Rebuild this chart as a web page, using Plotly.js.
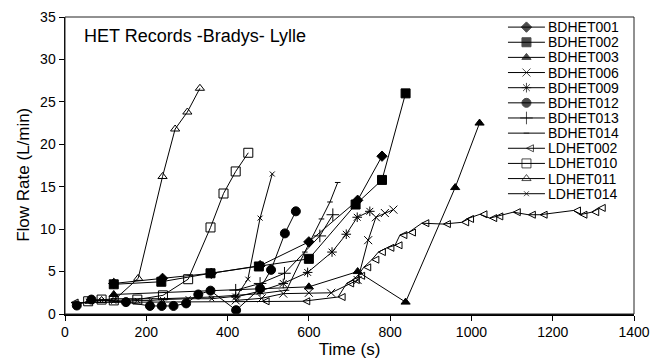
<!DOCTYPE html>
<html>
<head>
<meta charset="utf-8">
<script src="https://cdn.plot.ly/plotly-3.0.1.min.js"></script>
<style>html,body{margin:0;padding:0;background:#fff;}#chart{width:666px;height:363px;}</style>
</head>
<body>
<div id="chart"></div>
<script>
// ---- data ----
const seriesNames = ["BDHET001","BDHET002","BDHET003","BDHET006","BDHET009","BDHET012","BDHET013","BDHET014","LDHET002","LDHET010","LDHET011","LDHET014"];

const BDHET001_t = [120, 240, 360, 480, 600, 720, 780];
const BDHET001_v = [3.6, 4.2, 4.8, 5.7, 8.5, 13.4, 18.6];

const BDHET002_t = [120, 237, 358, 477, 600, 715, 780, 838];
const BDHET002_v = [3.5, 3.8, 4.8, 5.6, 6.5, 12.9, 15.8, 26.0];

const BDHET003_t = [120, 600, 720, 838, 960, 1020];
const BDHET003_v = [2.3, 3.2, 5.0, 1.4, 14.9, 22.5];

const BDHET006_t = [420, 484, 537, 600, 655, 720, 746, 765, 787, 808];
const BDHET006_v = [1.6, 1.85, 2.4, 2.5, 2.5, 4.0, 8.7, 11.4, 11.9, 12.3];

const BDHET009_t = [420, 480, 537, 597, 657, 692, 719, 750];
const BDHET009_v = [2.0, 2.7, 3.6, 4.9, 7.3, 9.4, 11.4, 12.1];

const BDHET012_t = [29, 65, 150, 209, 238, 267, 298, 328, 358, 421, 480, 507, 541, 568];
const BDHET012_v = [1.0, 1.7, 1.4, 0.95, 0.95, 0.95, 1.25, 2.3, 2.75, 0.45, 3.0, 5.2, 9.5, 12.1];

const BDHET013_t = [420, 480, 540, 627, 659];
const BDHET013_v = [2.8, 3.6, 4.8, 9.2, 11.7];

const BDHET014_t = [60, 120, 240, 360, 480, 545, 590, 631, 652, 671];
const BDHET014_v = [1.5, 1.8, 1.8, 2.0, 2.4, 2.8, 7.3, 11.2, 13.2, 15.5];

const LDHET002_t = [15, 485, 585, 672, 693, 707, 720, 735, 755, 771, 792, 812, 824, 845, 878, 931, 976, 988, 1021, 1045, 1060, 1103, 1140, 1169, 1251, 1267, 1296, 1312];
const LDHET002_v = [1.35, 1.5, 1.5, 2.0, 3.6, 4.0, 4.5, 5.5, 6.4, 7.3, 7.8, 8.1, 9.3, 9.6, 10.7, 10.6, 10.8, 11.2, 11.75, 11.3, 11.5, 12.0, 11.7, 11.7, 12.2, 11.7, 12.0, 12.5];

const LDHET010_t = [57, 90, 120, 178, 241, 303, 358, 390, 420, 451];
const LDHET010_v = [1.5, 1.7, 1.6, 1.7, 2.2, 4.1, 10.2, 14.2, 16.8, 19.0];

const LDHET011_t = [60, 90, 121, 180, 240, 271, 301, 332];
const LDHET011_v = [1.5, 1.6, 1.65, 4.2, 16.2, 21.8, 23.8, 26.6];

const LDHET014_t = [57, 90, 120, 150, 178, 211, 240, 303, 361, 422, 450, 480, 510];
const LDHET014_v = [1.5, 1.6, 1.5, 1.5, 1.6, 1.6, 1.7, 1.8, 1.8, 2.1, 4.1, 11.3, 16.5];

const chartTitle = "HET Records -Bradys- Lylle";
const xTitle = "Time (s)";
const yTitle = "Flow Rate (L/min)";

// ---- styles ----
const styles = {
  BDHET001: {symbol: "diamond", size: 8},
  BDHET002: {symbol: "square", size: 9},
  BDHET003: {symbol: "triangle-up", size: 8},
  BDHET006: {symbol: "x-thin-open", size: 8},
  BDHET009: {symbol: "asterisk-open", size: 8},
  BDHET012: {symbol: "circle", size: 9},
  BDHET013: {symbol: "cross-thin-open", size: 9},
  BDHET014: {symbol: "line-ew-open", size: 4},
  LDHET002: {symbol: "arrow-left-open", size: 7},
  LDHET010: {symbol: "square-open", size: 9},
  LDHET011: {symbol: "triangle-up-open", size: 8},
  LDHET014: {symbol: "x-thin-open", size: 5}
};
const dataMap = {
  BDHET001: [BDHET001_t, BDHET001_v], BDHET002: [BDHET002_t, BDHET002_v],
  BDHET003: [BDHET003_t, BDHET003_v], BDHET006: [BDHET006_t, BDHET006_v],
  BDHET009: [BDHET009_t, BDHET009_v], BDHET012: [BDHET012_t, BDHET012_v],
  BDHET013: [BDHET013_t, BDHET013_v], BDHET014: [BDHET014_t, BDHET014_v],
  LDHET002: [LDHET002_t, LDHET002_v], LDHET010: [LDHET010_t, LDHET010_v],
  LDHET011: [LDHET011_t, LDHET011_v], LDHET014: [LDHET014_t, LDHET014_v]
};

const FONT = "Liberation Sans, Arial, sans-serif";
const traces = [];
seriesNames.forEach(function (n) {
  const st = styles[n];
  traces.push({
    type: "scatter", mode: "lines+markers", name: n,
    x: dataMap[n][0], y: dataMap[n][1],
    line: {color: "#000", width: 1},
    marker: {symbol: st.symbol, size: st.size, color: "#000", line: {color: "#000", width: 1}},
    showlegend: false, cliponaxis: true
  });
});

// ---- custom legend (compact spacing) on an overlay [0,1] axis ----
const legX0 = 0.7785, legX1 = 0.8435, legTextX = 0.846;
const legY0 = 0.966, legDY = 0.0510;
const annotations = [{
  text: chartTitle, xref: "paper", yref: "paper", x: 0.030, y: 0.937,
  xanchor: "left", yanchor: "middle", showarrow: false,
  font: {family: FONT, size: 18, color: "#000"}
}, {
  text: yTitle, xref: "paper", yref: "paper", x: -0.073, y: 0.47, textangle: -90,
  xanchor: "center", yanchor: "middle", showarrow: false,
  font: {family: FONT, size: 17, color: "#000"}
}];
seriesNames.forEach(function (n, i) {
  const st = styles[n];
  const yy = legY0 - i * legDY;
  traces.push({
    type: "scatter", mode: "lines+markers", xaxis: "x2", yaxis: "y2",
    x: [legX0, (legX0 + legX1) / 2, legX1], y: [yy, yy, yy],
    line: {color: "#000", width: 1},
    marker: {symbol: st.symbol, size: [0, st.size, 0], color: "#000", line: {color: "#000", width: 1}},
    showlegend: false, hoverinfo: "skip"
  });
  annotations.push({
    text: n, xref: "paper", yref: "paper", x: legTextX, y: yy,
    xanchor: "left", yanchor: "middle", showarrow: false,
    font: {family: FONT, size: 14, color: "#000"}
  });
});

const layout = {
  width: 666, height: 363,
  margin: {l: 65, r: 32, t: 17, b: 49, pad: 0},
  paper_bgcolor: "#fff", plot_bgcolor: "#fff",
  font: {family: FONT, size: 14, color: "#000"},
  showlegend: false,
  xaxis: {
    range: [0, 1400], dtick: 200, tick0: 0, showgrid: false, zeroline: false,
    showline: true, linecolor: "#000", linewidth: 1.5,
    ticks: "outside", ticklen: 5, tickwidth: 1, tickcolor: "#000",
    tickfont: {family: FONT, size: 14},
    title: {text: xTitle, font: {family: FONT, size: 17}, standoff: 4}
  },
  yaxis: {
    range: [0, 35], dtick: 5, tick0: 0, showgrid: false, zeroline: false,
    showline: true, linecolor: "#000", linewidth: 1.5,
    ticks: "outside", ticklen: 5, tickwidth: 1, tickcolor: "#000",
    tickfont: {family: FONT, size: 14}
  },
  xaxis2: {overlaying: "x", range: [0, 1], visible: false, fixedrange: true},
  yaxis2: {overlaying: "y", range: [0, 1], visible: false, fixedrange: true},
  shapes: [{type: "rect", xref: "paper", yref: "paper", x0: 0, x1: 1, y0: 0, y1: 1,
            line: {color: "#222", width: 1}}],
  annotations: annotations
};

Plotly.newPlot("chart", traces, layout, {displayModeBar: false, staticPlot: true});
</script>
</body>
</html>
